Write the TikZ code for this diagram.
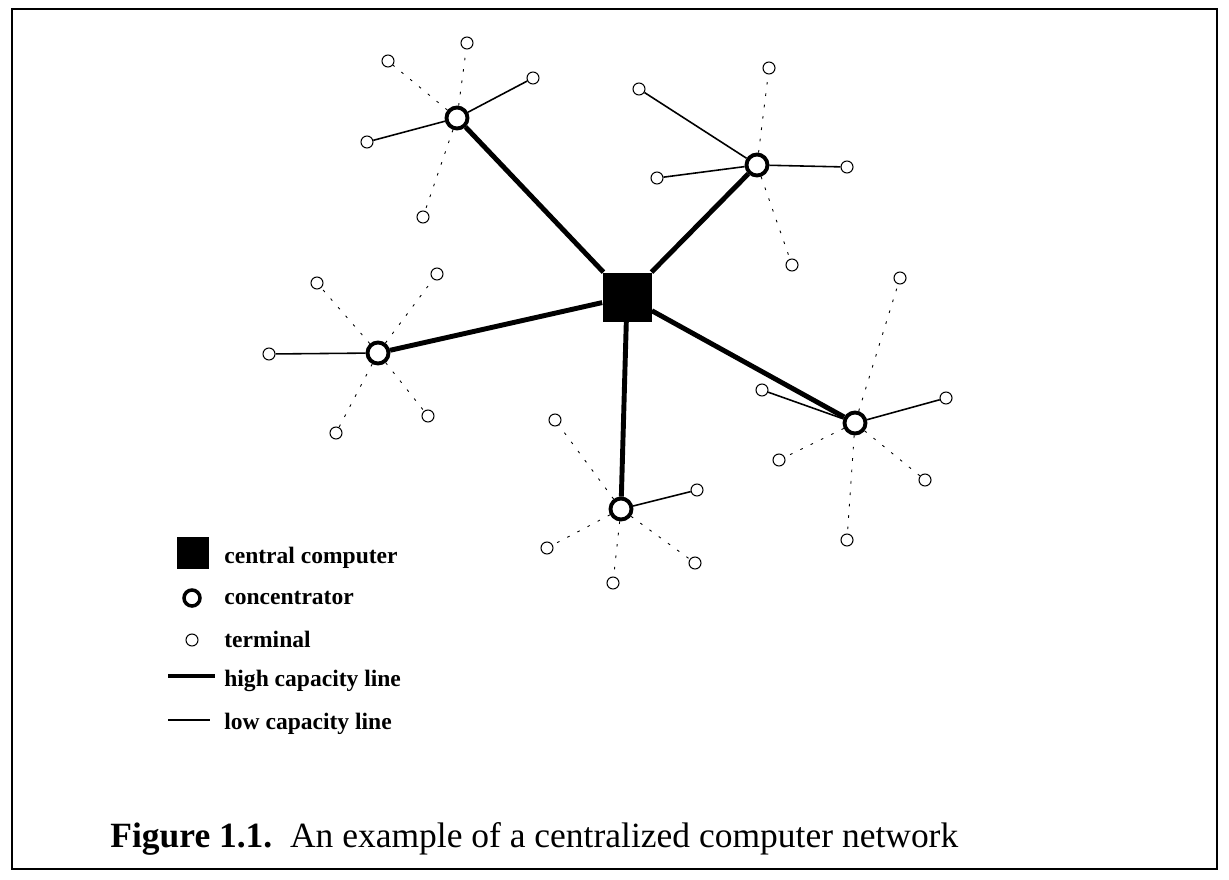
\documentclass[tikz,border=0pt]{standalone}
\usepackage{fontspec}
\setmainfont{Liberation Serif}
\tikzset{
  comp/.style={rectangle, fill=black, inner sep=0pt, minimum size=0.98cm},
  conc/.style={circle, draw, fill=white, line width=2.2pt, inner sep=0pt, minimum size=0.42cm},
  term/.style={circle, draw, fill=white, line width=0.6pt, inner sep=0pt, minimum size=0.24cm},
  high/.style={line width=2.8pt},
  low/.style={line width=0.9pt},
  faint/.style={line width=0.5pt, dash pattern=on 1.5pt off 5pt},
  legtext/.style={anchor=base west, inner sep=0pt, font=\fontsize{13.4}{16}\selectfont\bfseries},
}
\begin{document}
\begin{tikzpicture}[x=0.02cm, y=-0.02cm]
  \useasboundingbox (0,0) rectangle (1229,879);
  \draw[line width=1.6pt] (12,9) rectangle (1217,869);

  \node[comp] (cc) at (627,297) {};
  \node[conc] (c1) at (457,118) {};
  \node[conc] (c2) at (757,165) {};
  \node[conc] (c3) at (378,353) {};
  \node[conc] (c4) at (855,423) {};
  \node[conc] (c5) at (621,509) {};

  \foreach \n/\x/\y in {11/467/43, 12/388/61, 13/533/78, 14/367/142, 15/423/217,
                        21/769/68, 22/639/89, 23/657/178, 24/847/167, 25/792/265,
                        31/317/283, 32/437/274, 33/269/354, 34/336/433, 35/428/416,
                        41/900/278, 42/762/390, 43/946/398, 44/779/460, 45/925/480, 46/847/540,
                        51/555/420, 52/697/490, 53/547/548, 54/613/583, 55/695/563}
    \node[term] (t\n) at (\x,\y) {};

  \foreach \c in {1,...,5}
    \draw[high] (cc) -- (c\c);
  \foreach \c/\t in {1/13, 1/14, 2/22, 2/23, 2/24, 3/33, 4/42, 4/43, 5/52}
    \draw[low] (c\c) -- (t\t);
  \foreach \c/\t in {1/11, 1/12, 1/15, 2/21, 2/25, 3/31, 3/32, 3/34, 3/35,
                     4/41, 4/44, 4/45, 4/46, 5/51, 5/53, 5/54, 5/55}
    \draw[faint] (c\c) -- (t\t);

  \node[comp, minimum size=0.64cm] (kcomp) at (193,553) {};
  \node[conc, minimum size=0.32cm, line width=2pt] (kconc) at (192,598) {};
  \node[term] (kterm) at (192,640) {};
  \coordinate (khigh1) at (168,676);
  \coordinate (khigh2) at (215,676);
  \coordinate (klow1) at (168,720);
  \coordinate (klow2) at (210,720);
  \draw[high] (khigh1) -- (khigh2);
  \draw[low] (klow1) -- (klow2);

  \node[legtext] (lcomp) at (224,563) {central computer};
  \node[legtext] (lconc) at (224,604) {concentrator};
  \node[legtext] (lterm) at (224,647) {terminal};
  \node[legtext] (lhigh) at (224,686) {high capacity line};
  \node[legtext] (llow) at (224,729) {low capacity line};

  \node[anchor=base west, inner sep=0pt, font=\fontsize{20.2}{24}\selectfont] (cap) at (110,847)
    {\textbf{Figure 1.1.}\ \ An example of a centralized computer network};
\end{tikzpicture}
\end{document}
